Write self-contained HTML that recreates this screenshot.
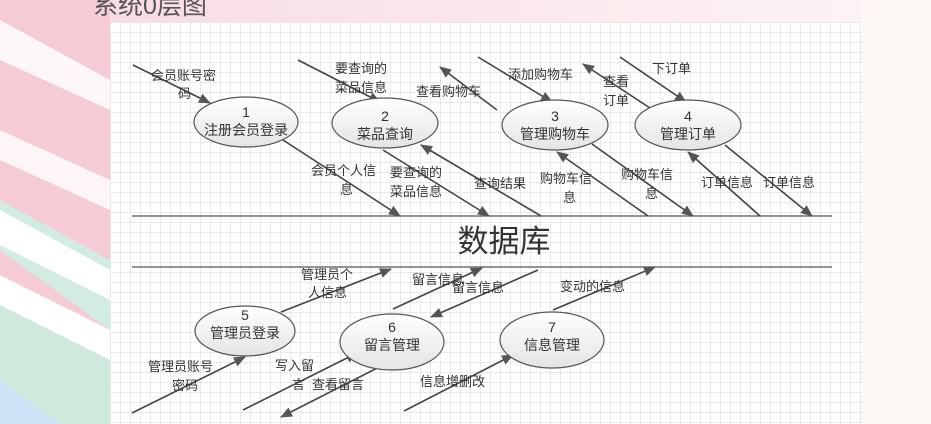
<!DOCTYPE html>
<html><head><meta charset="utf-8">
<style>
html,body{margin:0;padding:0;width:931px;height:424px;overflow:hidden;background:#fdf8f6;}
svg{display:block;}
text{font-family:"Liberation Sans","Noto Sans CJK SC",sans-serif;fill:#333;}
</style></head><body>
<svg width="931" height="424" viewBox="0 0 931 424" xmlns="http://www.w3.org/2000/svg">
<defs>
<pattern id="g" x="110" y="22" width="10" height="10" patternUnits="userSpaceOnUse">
<path d="M10 0H0V10" fill="none" stroke="#d6d6d6" stroke-width="1"/>
</pattern>
<marker id="a" markerWidth="12" markerHeight="10" refX="11" refY="5" orient="auto" markerUnits="userSpaceOnUse">
<path d="M0,0 L12,5 L0,10 Z" fill="#555"/>
</marker>
<linearGradient id="e" x1="0" y1="0" x2="0" y2="1">
<stop offset="0" stop-color="#ffffff"/><stop offset="1" stop-color="#e4e4e4"/>
</linearGradient>
<linearGradient id="top" x1="0" y1="0" x2="1" y2="0">
<stop offset="0" stop-color="#f7d9e1"/><stop offset="1" stop-color="#fdf3f4"/>
</linearGradient>
</defs>
<!-- background -->
<rect x="0" y="0" width="931" height="424" fill="#fdf8f6"/>
<rect x="0" y="0" width="862" height="424" fill="url(#top)"/>
<polygon points="0,0 110,0 110,424 0,424" fill="#f5cbd6"/>
<polygon points="0,20 110,80 110,110 0,60" fill="#fff" opacity="0.85"/>
<polygon points="0,130 110,180 110,210 0,160" fill="#fff" opacity="0.8"/>
<polygon points="0,200 110,260 110,330 0,250" fill="#d2ece2"/>
<polygon points="0,210 110,270 110,300 0,245" fill="#fff"/>
<polygon points="0,275 110,330 110,360 0,305" fill="#fff"/>
<polygon points="0,305 110,360 110,424 0,424" fill="#cfe9dc"/>
<polygon points="0,380 60,424 0,424" fill="#cde4f6"/>
<!-- grid -->
<rect x="110" y="22" width="752" height="402" fill="#fff"/>
<rect x="110" y="22" width="752" height="402" fill="url(#g)"/>
<!-- title -->
<text x="93" y="14" font-size="25" fill="#555" style="fill:#555">系统0层图</text>
<!-- datastore -->
<line x1="132" y1="216" x2="832" y2="216" stroke="#555" stroke-width="1.3"/>
<line x1="132" y1="267" x2="832" y2="267" stroke="#555" stroke-width="1.3"/>
<text x="504" y="252" font-size="31" text-anchor="middle">数据库</text>
<g stroke="#444" stroke-width="1.6" fill="none" marker-end="url(#a)">
<line x1="133" y1="65" x2="210" y2="103"/>
<line x1="298" y1="60" x2="380" y2="102"/>
<line x1="497" y1="110" x2="440" y2="67"/>
<line x1="478" y1="57" x2="552" y2="102"/>
<line x1="650" y1="108" x2="583" y2="64"/>
<line x1="620" y1="57" x2="686" y2="102"/>
<line x1="283" y1="140" x2="400" y2="216"/>
<line x1="383" y1="150" x2="489" y2="216"/>
<line x1="541" y1="216" x2="421" y2="145"/>
<line x1="648" y1="216" x2="557" y2="152"/>
<line x1="592" y1="144" x2="693" y2="216"/>
<line x1="760" y1="216" x2="688" y2="152"/>
<line x1="725" y1="145" x2="812" y2="216"/>
<line x1="132" y1="413" x2="245" y2="357"/>
<line x1="281" y1="312" x2="391" y2="269"/>
<line x1="393" y1="309" x2="482" y2="268"/>
<line x1="538" y1="270" x2="431" y2="317"/>
<line x1="553" y1="310" x2="655" y2="267"/>
<line x1="243" y1="410" x2="357" y2="353"/>
<line x1="393" y1="360" x2="281" y2="417"/>
<line x1="404" y1="411" x2="513" y2="355"/>
</g>
<!-- ellipses -->
<g fill="url(#e)" stroke="#555" stroke-width="1.2">
<ellipse cx="246" cy="122" rx="52" ry="25"/>
<ellipse cx="385" cy="123" rx="53" ry="25"/>
<ellipse cx="555" cy="125" rx="53" ry="25"/>
<ellipse cx="688" cy="125" rx="53" ry="25"/>
<ellipse cx="245" cy="331" rx="50" ry="25"/>
<ellipse cx="392" cy="342" rx="52" ry="28"/>
<ellipse cx="552" cy="340" rx="52" ry="28"/>
</g>
<g font-size="14" text-anchor="middle">
<text x="246" y="117">1</text><text x="246" y="135">注册会员登录</text>
<text x="385" y="121">2</text><text x="385" y="139">菜品查询</text>
<text x="555" y="121">3</text><text x="555" y="139">管理购物车</text>
<text x="688" y="121">4</text><text x="688" y="139">管理订单</text>
<text x="245" y="320">5</text><text x="245" y="338">管理员登录</text>
<text x="392" y="332">6</text><text x="392" y="350">留言管理</text>
<text x="552" y="332">7</text><text x="552" y="350">信息管理</text>
</g>
<g font-size="13">
<text x="151" y="80">会员账号密</text><text x="178" y="98">码</text>
<text x="335" y="73">要查询的</text><text x="335" y="92">菜品信息</text>
<text x="416" y="96">查看购物车</text>
<text x="508" y="79">添加购物车</text>
<text x="603" y="86">查看</text><text x="603" y="105">订单</text>
<text x="652" y="73">下订单</text>
<text x="311" y="175">会员个人信</text><text x="340" y="194">息</text>
<text x="390" y="177">要查询的</text><text x="390" y="196">菜品信息</text>
<text x="474" y="188">查询结果</text>
<text x="540" y="183">购物车信</text><text x="563" y="202">息</text>
<text x="621" y="179">购物车信</text><text x="645" y="198">息</text>
<text x="701" y="187">订单信息</text>
<text x="763" y="187">订单信息</text>
<text x="301" y="279">管理员个</text><text x="308" y="297">人信息</text>
<text x="412" y="284">留言信息</text>
<text x="452" y="292">留言信息</text>
<text x="560" y="291">变动的信息</text>
<text x="148" y="371">管理员账号</text><text x="172" y="390">密码</text>
<text x="275" y="370">写入留</text><text x="292" y="389">言</text>
<text x="312" y="389">查看留言</text>
<text x="420" y="386">信息增删改</text>
</g>
</svg>
</body></html>
